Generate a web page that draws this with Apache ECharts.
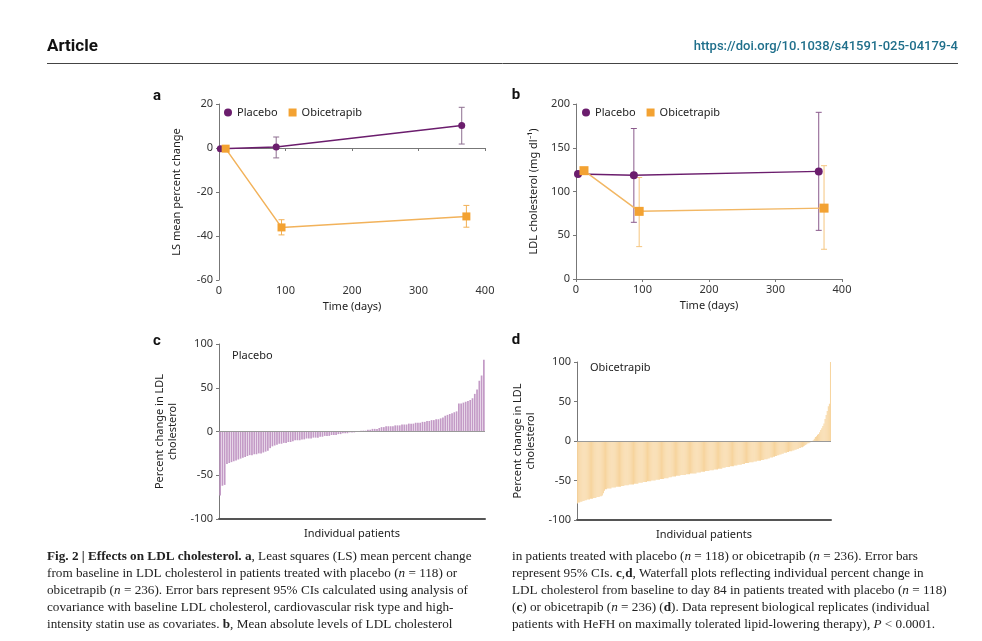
<!DOCTYPE html>
<html>
<head>
<meta charset="utf-8">
<script src="https://cdn.jsdelivr.net/npm/echarts@6/dist/echarts.min.js"></script>
<style>html,body{margin:0;padding:0;background:#fff}#c{width:982px;height:641px}</style>
</head>
<body>
<div id="c"></div>
<script>
// ---- Panel a: LS mean percent change ----
const aDaysPlacebo = [2, 86, 365];
const aMeanPlacebo = [-0.3, 0.5, 10.2];
const aLoPlacebo = [null, -4.5, 1.8];
const aHiPlacebo = [null, 5.0, 18.5];
const aDaysObi = [10, 94, 372];
const aMeanObi = [-0.3, -36.1, -31.1];
const aLoObi = [null, -39.5, -36.0];
const aHiObi = [null, -32.6, -26.1];
// ---- Panel b: LDL cholesterol (mg/dl) ----
const bDaysPlacebo = [3, 87, 365];
const bMeanPlacebo = [120, 118.5, 123];
const bLoPlacebo = [null, 64.8, 55.6];
const bHiPlacebo = [null, 172, 190.5];
const bDaysObi = [12, 95, 373];
const bMeanObi = [123.8, 77.3, 81];
const bLoObi = [null, 37, 34];
const bHiObi = [null, 116, 129.5];
// ---- Panel c: waterfall placebo (n=118) ----
const cPlacebo = [
 -73,-62,-61,-37,-36,-35,-34,-33,-32,-31,
 -30,-29,-28,-27,-27,-26,-26,-25,-25,-24,
 -23,-22,-19,-17,-16,-15,-14,-14,-13,-13,
 -12,-12,-11,-10,-10,-10,-9,-9,-8,-8,
 -8,-7,-7,-7,-6,-6,-5,-5,-5,-4,
 -4,-4,-3,-3,-2,-2,-2,-1,-1,-1,
 0,0,1,1,1,2,2,3,3,3,
 4,5,5,6,6,6,6,7,7,7,
 8,8,8,9,9,9,10,10,10,11,
 11,12,12,13,13,14,14,15,16,18,
 19,20,21,22,23,32,32,33,34,35,
 36,38,43,48,58,64,82
];
// ---- Panel d: waterfall obicetrapib (n=236) ----
const dObicetrapib = [
 -79,-78,-78,-77,-77,-76,-76,-75,-75,-74,
 -74,-74,-73,-73,-73,-72,-72,-72,-71,-71,
 -71,-70,-70,-69,-66,-63,-61,-61,-60,-60,
 -60,-60,-59,-59,-59,-59,-58,-58,-58,-58,
 -58,-57,-57,-57,-56,-56,-56,-56,-55,-55,
 -55,-55,-55,-54,-54,-54,-54,-53,-53,-53,
 -53,-52,-52,-52,-52,-51,-51,-51,-51,-50,
 -50,-50,-50,-49,-49,-49,-49,-48,-48,-48,
 -48,-47,-47,-47,-47,-46,-46,-46,-45,-45,
 -45,-45,-44,-44,-44,-44,-43,-43,-43,-43,
 -43,-42,-42,-42,-42,-41,-41,-41,-41,-41,
 -41,-40,-40,-40,-40,-39,-39,-39,-39,-38,
 -38,-38,-38,-37,-37,-37,-37,-36,-36,-36,
 -36,-35,-35,-35,-35,-34,-34,-34,-33,-33,
 -33,-33,-32,-32,-32,-32,-31,-31,-31,-30,
 -30,-30,-30,-29,-29,-29,-28,-28,-28,-28,
 -27,-27,-27,-27,-26,-26,-26,-25,-25,-25,
 -25,-24,-24,-24,-23,-23,-23,-22,-22,-21,
 -21,-21,-20,-20,-19,-19,-18,-18,-17,-17,
 -16,-16,-15,-15,-15,-14,-14,-13,-13,-13,
 -12,-12,-11,-11,-10,-10,-9,-9,-8,-8,
 -7,-6,-5,-4,-3,-3,-2,-1,0,1,
 3,5,6,8,9,11,14,16,19,22,
 28,33,38,44,47,100
];
const timeTicks = [0, 100, 200, 300, 400];

const PURPLE = '#6b1d6d', ORANGE = '#f3a232';
const FONT = 'Noto Sans';

function pts(days, vals) { return days.map((d, i) => [d, vals[i]]); }
function ci(days, lo, hi) {
  const out = [];
  days.forEach((d, i) => { if (lo[i] != null) out.push([d, lo[i], hi[i]]); });
  return out;
}
function errSeries(gi, data, color) {
  return {
    type: 'custom', xAxisIndex: gi, yAxisIndex: gi, z: 2, silent: true,
    data: data, encode: { x: 0, y: [1, 2] },
    renderItem: function (params, api) {
      const x = api.value(0);
      const p1 = api.coord([x, api.value(2)]);
      const p2 = api.coord([x, api.value(1)]);
      const w = 3;
      const st = { stroke: color, lineWidth: 1 };
      return { type: 'group', children: [
        { type: 'line', shape: { x1: p1[0], y1: p1[1], x2: p2[0], y2: p2[1] }, style: st },
        { type: 'line', shape: { x1: p1[0] - w, y1: p1[1], x2: p1[0] + w, y2: p1[1] }, style: st },
        { type: 'line', shape: { x1: p2[0] - w, y1: p2[1], x2: p2[0] + w, y2: p2[1] }, style: st }
      ]};
    }
  };
}
const labelStyle = { fontSize: 11, color: '#333', fontFamily: FONT };
const nameStyle = { fontSize: 11, color: '#222', fontFamily: FONT };
function timeAxis(gi) {
  return {
    gridIndex: gi, type: 'value', min: 0, max: 400, interval: 100,
    axisLine: { lineStyle: { color: '#777', width: 1 } },
    axisTick: { show: true, length: 3, lineStyle: { color: '#777' } },
    axisLabel: Object.assign({ margin: 5 }, labelStyle),
    splitLine: { show: false },
    name: 'Time (days)', nameLocation: 'middle', nameGap: 21, nameTextStyle: nameStyle
  };
}
function valAxis(gi, min, max, interval, name, gap) {
  return {
    gridIndex: gi, type: 'value', min: min, max: max, interval: interval,
    axisLine: { show: true, onZero: false, lineStyle: { color: '#777', width: 1 } },
    axisTick: { show: true, length: 3, lineStyle: { color: '#777' } },
    axisLabel: Object.assign({ margin: 6 }, labelStyle),
    splitLine: { show: false },
    name: name, nameLocation: 'middle', nameGap: gap,
    nameTextStyle: Object.assign({ lineHeight: 13 }, nameStyle)
  };
}
function catAxis(gi, n) {
  return {
    gridIndex: gi, type: 'category', data: Array.from({ length: n }, (_, i) => i + 1),
    axisLine: { onZero: false, lineStyle: { color: '#555', width: 2 } },
    axisTick: { show: false }, axisLabel: { show: false },
    name: 'Individual patients', nameLocation: 'middle', nameGap: 9, nameTextStyle: nameStyle
  };
}
const legendBase = {
  padding: 0, itemWidth: 8, itemHeight: 8, itemGap: 11,
  textStyle: { fontSize: 11, color: '#222', fontFamily: FONT },
  data: [{ name: 'Placebo', icon: 'circle' }, { name: 'Obicetrapib', icon: 'rect' }],
  selectedMode: false
};

function lineSeries(gi, name, data, color, lineColor, sym, size) {
  return {
    type: 'line', name: name, xAxisIndex: gi, yAxisIndex: gi, data: data, z: 3,
    symbol: sym, symbolSize: size, showSymbol: true,
    lineStyle: { color: lineColor, width: 1.5 }, itemStyle: { color: color },
    emphasis: { disabled: true }
  };
}

function capText(x, y, str) {
  const base = { fontFamily: 'Liberation Serif', fontSize: 13.2, fill: '#222' };
  return {
    type: 'text', x: x, y: y, silent: true,
    style: Object.assign({ text: str, align: 'left', verticalAlign: 'middle',
      rich: {
        r: Object.assign({}, base),
        b: Object.assign({ fontWeight: 'bold' }, base),
        i: Object.assign({ fontStyle: 'italic' }, base)
      } }, base)
  };
}
const capLeft = [
  '{b|Fig. 2 | Effects on LDL cholesterol.} {b|a}{r|, Least squares (LS) mean percent change}',
  '{r|from baseline in LDL cholesterol in patients treated with placebo (}{i|n}{r| = 118) or}',
  '{r|obicetrapib (}{i|n}{r| = 236). Error bars represent 95% CIs calculated using analysis of}',
  '{r|covariance with baseline LDL cholesterol, cardiovascular risk type and high-}',
  '{r|intensity statin use as covariates. }{b|b}{r|, Mean absolute levels of LDL cholesterol}'
];
const capRight = [
  '{r|in patients treated with placebo (}{i|n}{r| = 118) or obicetrapib (}{i|n}{r| = 236). Error bars}',
  '{r|represent 95% CIs. }{b|c}{r|,}{b|d}{r|, Waterfall plots reflecting individual percent change in}',
  '{r|LDL cholesterol from baseline to day 84 in patients treated with placebo (}{i|n}{r| = 118)}',
  '{r|(}{b|c}{r|) or obicetrapib (}{i|n}{r| = 236) (}{b|d}{r|). Data represent biological replicates (individual}',
  '{r|patients with HeFH on maximally tolerated lipid-lowering therapy), }{i|P}{r| < 0.0001.}'
];
const capY = [557, 574, 591, 608, 625];
const graphics = [
  { type: 'text', x: 47, y: 47, style: { text: 'Article', fontFamily: 'Roboto', fontWeight: 'bold', fontSize: 17, fill: '#111', align: 'left', verticalAlign: 'middle' } },
  { type: 'text', x: 958, y: 47, style: { text: 'https://doi.org/10.1038/s41591-025-04179-4', fontFamily: 'Roboto', fontWeight: 500, fontSize: 13, fill: '#1f6f8b', align: 'right', verticalAlign: 'middle' } },
  { type: 'line', shape: { x1: 47, y1: 63.5, x2: 958, y2: 63.5 }, style: { stroke: '#444', lineWidth: 1 } },
  { type: 'text', x: 157, y: 96, style: { text: 'a', fontFamily: 'Roboto', fontWeight: 'bold', fontSize: 15, fill: '#111', align: 'center', verticalAlign: 'middle' } },
  { type: 'text', x: 516, y: 95, style: { text: 'b', fontFamily: 'Roboto', fontWeight: 'bold', fontSize: 15, fill: '#111', align: 'center', verticalAlign: 'middle' } },
  { type: 'text', x: 157, y: 341, style: { text: 'c', fontFamily: 'Roboto', fontWeight: 'bold', fontSize: 15, fill: '#111', align: 'center', verticalAlign: 'middle' } },
  { type: 'text', x: 516, y: 340, style: { text: 'd', fontFamily: 'Roboto', fontWeight: 'bold', fontSize: 15, fill: '#111', align: 'center', verticalAlign: 'middle' } },
  { type: 'text', x: 232, y: 356, style: { text: 'Placebo', fontFamily: FONT, fontSize: 11, fill: '#222', align: 'left', verticalAlign: 'middle' } },
  { type: 'text', x: 590, y: 368, style: { text: 'Obicetrapib', fontFamily: FONT, fontSize: 11, fill: '#222', align: 'left', verticalAlign: 'middle' } }
];
capLeft.forEach((t, i) => graphics.push(capText(47, capY[i], t)));
capRight.forEach((t, i) => graphics.push(capText(512, capY[i], t)));

const zeroLine = {
  silent: true, symbol: 'none', label: { show: false },
  lineStyle: { color: '#999', width: 1, type: 'solid' }, data: [{ yAxis: 0 }]
};

const option = {
  animation: false,
  backgroundColor: '#fff',
  textStyle: { fontFamily: FONT },
  grid: [
    { left: 219, top: 104, width: 266, height: 176 },
    { left: 576, top: 104, width: 266, height: 175 },
    { left: 219, top: 344, width: 266, height: 175 },
    { left: 577, top: 362, width: 254, height: 158 }
  ],
  legend: [
    Object.assign({ left: 224, top: 107 }, legendBase),
    Object.assign({ left: 582, top: 107 }, legendBase)
  ],
  xAxis: [timeAxis(0), timeAxis(1), catAxis(2, cPlacebo.length), catAxis(3, dObicetrapib.length)],
  yAxis: [
    valAxis(0, -60, 20, 20, 'LS mean percent change', 36),
    valAxis(1, 0, 200, 50, 'LDL cholesterol (mg dl⁻¹)', 36),
    valAxis(2, -100, 100, 50, 'Percent change in LDL\ncholesterol', 40),
    valAxis(3, -100, 100, 50, 'Percent change in LDL\ncholesterol', 40)
  ],
  graphic: graphics,
  series: [
    errSeries(0, ci(aDaysPlacebo, aLoPlacebo, aHiPlacebo), '#8e6f90'),
    errSeries(0, ci(aDaysObi, aLoObi, aHiObi), '#f2b055'),
    lineSeries(0, 'Placebo', pts(aDaysPlacebo, aMeanPlacebo), PURPLE, PURPLE, 'circle', 7),
    lineSeries(0, 'Obicetrapib', pts(aDaysObi, aMeanObi), ORANGE, '#f2b25a', 'rect', 8),
    errSeries(1, ci(bDaysPlacebo, bLoPlacebo, bHiPlacebo), '#8a5a8c'),
    errSeries(1, ci(bDaysObi, bLoObi, bHiObi), '#f5c57f'),
    lineSeries(1, 'Placebo', pts(bDaysPlacebo, bMeanPlacebo), PURPLE, PURPLE, 'circle', 8),
    lineSeries(1, 'Obicetrapib', pts(bDaysObi, bMeanObi), ORANGE, '#f2b764', 'rect', 9),
    {
      type: 'bar', name: 'Placebo waterfall', xAxisIndex: 2, yAxisIndex: 2, data: cPlacebo,
      barCategoryGap: '25%', itemStyle: { color: '#c39ac6' }, markLine: zeroLine,
      emphasis: { disabled: true }
    },
    {
      type: 'bar', name: 'Obicetrapib waterfall', xAxisIndex: 3, yAxisIndex: 3, data: dObicetrapib,
      barCategoryGap: '8%', itemStyle: { color: '#f7d49d' }, markLine: zeroLine,
      emphasis: { disabled: true }
    }
  ]
};
const chart = echarts.init(document.getElementById('c'), null, { renderer: 'canvas' });
chart.setOption(option);
</script>
</body>
</html>
